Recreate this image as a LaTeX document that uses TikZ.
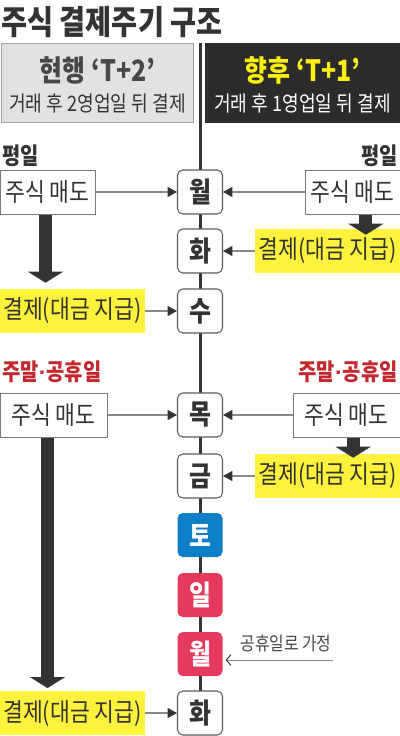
\documentclass[tikz,border=0pt]{standalone}
\usepackage{fontspec}
\setmainfont{Noto Sans CJK KR}[FakeStretch=0.85]
\newfontfamily\dotfont{Liberation Sans}
\usetikzlibrary{arrows.meta}

\definecolor{ink}{HTML}{333333}
\definecolor{linegray}{HTML}{8A8A8A}
\definecolor{boxgray}{HTML}{7A7A7A}
\definecolor{hdgray}{HTML}{E2E2E2}
\definecolor{hddark}{HTML}{2B2B2B}
\definecolor{hdyellow}{HTML}{FFEE11}
\definecolor{payyellow}{HTML}{FFF23C}
\definecolor{holired}{HTML}{C1272D}
\definecolor{satblue}{HTML}{0E7EC6}
\definecolor{sunpink}{HTML}{E63A5C}

\begin{document}
\begin{tikzpicture}[x=0.75pt, y=-0.75pt,
  day/.style={draw=ink!80, line width=0.8pt, rounded corners=4pt, fill=white,
    minimum width=33.75pt, minimum height=33pt, inner sep=0pt,
    font=\fontsize{21}{22}\selectfont\bfseries, text=ink},
  holiday/.style={day, draw=none, fill=#1, text=white},
  sellbox/.style={draw=boxgray, line width=0.75pt, fill=white, minimum width=#1,
    minimum height=33pt, inner sep=0pt, font=\fontsize{19}{20}\selectfont, text=ink},
  paybox/.style={fill=payyellow, minimum width=108.75pt, minimum height=33pt,
    inner sep=0pt, font=\fontsize{19}{20}\selectfont, text=ink},
  tag/.style={font=\fontsize{17.5}{19}\selectfont\bfseries, inner sep=0pt},
  link/.style={draw=linegray, line width=0.8pt, -{Triangle[length=7pt,width=7.5pt,color=ink]}},
  fat/.style={draw=ink, line width=9.75pt, -{Triangle[length=8.25pt,width=26pt]}},
  spine/.style={draw=ink, line width=2.25pt}]

  \useasboundingbox (0,0) rectangle (400,736);

  % title
  \node[anchor=west, inner sep=0pt, text=ink, font=\fontsize{25}{26}\selectfont\bfseries] (title) at (1,22) {주식 결제주기 구조};

  % time line
  \coordinate (top) at (200,43);
  \coordinate (bot) at (200,713);
  \draw[spine] (top) -- (bot);

  % headers
  \node[fill=hdgray, draw=boxgray!70, line width=0.75pt, minimum width=144pt, minimum height=59.5pt, inner sep=0pt] (now) at (97.5,83) {};
  \node[text=ink!90, font=\fontsize{22}{24}\selectfont\bfseries] (nowT) at (97.5,70) {현행 ‘T+2’};
  \node[text=ink, font=\fontsize{16}{17}\selectfont] (nowS) at (97.5,103) {거래 후 2영업일 뒤 결제};
  \node[fill=hddark, minimum width=146.25pt, minimum height=60pt, inner sep=0pt] (next) at (302.5,83) {};
  \node[text=hdyellow, font=\fontsize{22}{24}\selectfont\bfseries] (nextT) at (302.5,70) {향후 ‘T+1’};
  \node[text=white, font=\fontsize{16}{17}\selectfont] (nextS) at (302.5,103) {거래 후 1영업일 뒤 결제};

  % days
  \node[day] (mon1) at (200,192) {월};
  \node[day] (tue1) at (200,251) {화};
  \node[day] (wed1) at (200,311) {수};
  \node[day] (thu1) at (200,415) {목};
  \node[day] (fri1) at (200,476) {금};
  \node[holiday=satblue] (sat1) at (200,535) {토};
  \node[holiday=sunpink] (sun1) at (200,595) {일};
  \node[holiday=sunpink] (mon2) at (200,654) {월};
  \node[day] (tue2) at (200,713) {화};

  % weekday case
  \node[tag, anchor=west, text=ink] (wkL) at (2,156) {평일};
  \node[tag, anchor=east, text=ink] (wkR) at (398,156) {평일};
  \node[sellbox=71.25pt] (sellA) at (47.5,192) {주식 매도};
  \node[paybox] (payA) at (72.5,311) {결제(대금 지급)};
  \node[sellbox=71.25pt] (sellB) at (352.5,192) {주식 매도};
  \node[paybox] (payB) at (327.5,251) {결제(대금 지급)};

  \draw[link] (sellA) -- (mon1);
  \draw[link] (sellB) -- (mon1);
  \draw[fat] ([xshift=-1.5pt]sellA.south) -- ([xshift=-1.5pt,yshift=4.5pt]sellA.south |- payA.north);
  \draw[link] (payA) -- (wed1);
  \draw[fat] ([xshift=10pt]sellB.south) -- ([xshift=10pt,yshift=-4.5pt]sellB.south |- payB.north);
  \draw[link] (payB) -- (tue1);

  % weekend / holiday case
  \node[tag, anchor=west, text=holired] (hdL) at (2,372) {주말{\dotfont\bfseries ·}공휴일};
  \node[tag, anchor=east, text=holired] (hdR) at (398,372) {주말{\dotfont\bfseries ·}공휴일};
  \node[sellbox=80.25pt] (sellC) at (53.5,415) {주식 매도};
  \node[paybox] (payC) at (72.5,713) {결제(대금 지급)};
  \node[sellbox=80.25pt] (sellD) at (346.5,415) {주식 매도};
  \node[paybox] (payD) at (327.5,476) {결제(대금 지급)};

  \draw[link] (sellC) -- (thu1);
  \draw[link] (sellD) -- (thu1);
  \draw[fat] (sellC.south -| sellA.south) -- ([yshift=2pt]sellA.south |- payC.north);
  \draw[link] (payC) -- (tue2);
  \draw[fat] ([xshift=5pt]sellD.south) -- ([xshift=5pt,yshift=-3pt]sellD.south |- payD.north);
  \draw[link] (payD) -- (fri1);

  % note
  \node[text=ink!90, font=\fontsize{14}{16}\selectfont, inner sep=0pt] (note) at (286,643) {공휴일로 가정};
  \coordinate (noteend) at (333,660);
  \draw[draw=linegray, line width=0.7pt, -{Straight Barb[length=3.5pt,width=8pt,color=ink]}] (noteend) -- ([xshift=2pt,yshift=-4.5pt]mon2.east);
\end{tikzpicture}
\end{document}
